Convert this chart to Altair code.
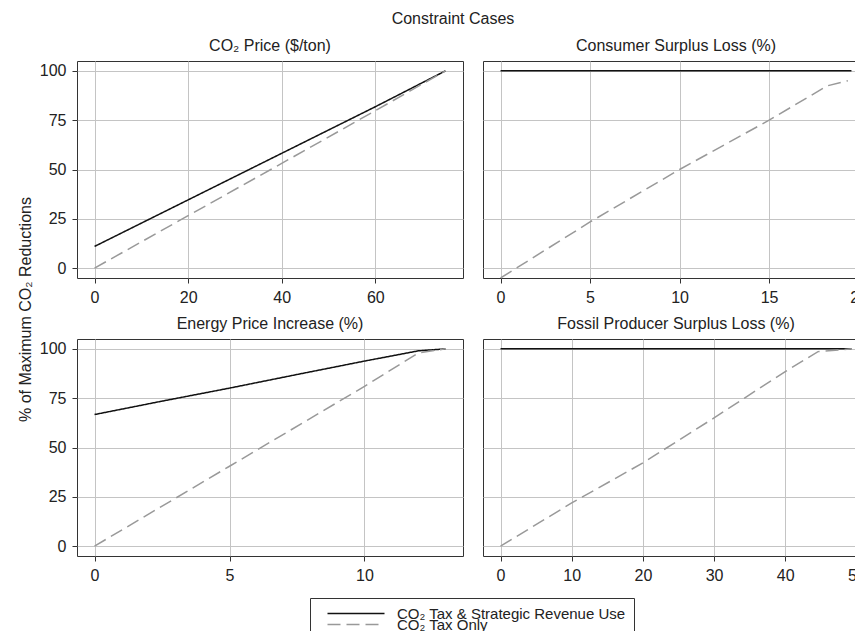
import altair as alt
import pandas as pd

S1 = "CO₂ Tax & Strategic Revenue Use"
S2 = "CO₂ Tax Only"

# Panel 1: CO2 Price ($/ton)
price_x_s = [0, 20, 40, 60, 75]
price_y_s = [11, 34.6, 58.2, 81.8, 100]
price_x_d = [0, 20, 40, 60, 75]
price_y_d = [0, 26.6, 53.1, 79.8, 100]

# Panel 2: Consumer Surplus Loss (%)
cons_x_s = [0, 19.6]
cons_y_s = [100, 100]
cons_x_d = [0, 5, 10, 15, 18.25, 19.4]
cons_y_d = [-5, 23.4, 50, 75, 92.4, 95]

# Panel 3: Energy Price Increase (%)
energy_x_s = [0, 2.5, 5, 7.5, 10, 12, 13]
energy_y_s = [66.7, 73.5, 80.1, 87, 93.8, 99, 100]
energy_x_d = [0, 5, 10, 12, 13]
energy_y_d = [0, 40.5, 81, 98, 100]

# Panel 4: Fossil Producer Surplus Loss (%)
fossil_x_s = [0, 49.3]
fossil_y_s = [100, 100]
fossil_x_d = [0, 10, 20, 30, 40, 44.6, 49.3]
fossil_y_d = [0, 21.9, 42.2, 65, 88.5, 98.6, 100]

Y_TICKS = [0, 25, 50, 75, 100]
FONT = "Liberation Sans"
TXT = "#222222"
FS = 16
LFS = 15
SYM = "M-1,0H10.4"

# legend box + first entry (solid)
legend_solid = alt.Legend(
    orient="none", legendX=233, legendY=537, values=[S1],
    title=".", titleOrient="bottom", titleFontSize=14, titlePadding=10,
    titleColor="white",
    symbolType=SYM, symbolSize=100, symbolStrokeWidth=1.5,
    labelFontSize=LFS, labelFont=FONT, labelColor=TXT, labelOffset=57,
    labelLimit=500, padding=8, strokeColor="#333333", symbolOffset=7,
)
# second entry (dashed), placed tightly below the first
legend_dash = alt.Legend(
    orient="none", legendX=233, legendY=548, values=[S2], title=None,
    symbolType=SYM, symbolSize=100, symbolStrokeWidth=1.5,
    symbolStrokeColor="#999999",
    labelFontSize=LFS, labelFont=FONT, labelColor=TXT, labelOffset=57,
    labelLimit=500, padding=8, symbolOffset=7,
)


def panel(title, xs_s, ys_s, xs_d, ys_d, xdom, xticks, left, ytitle=False):
    series = [S1] * len(xs_s) + [S2] * len(xs_d)
    df = pd.DataFrame({
        "x": xs_s + xs_d,
        "y": ys_s + ys_d,
        "series": series,
        "series_d": series,
    })
    if left:
        if ytitle:
            yaxis = alt.Axis(values=Y_TICKS, title="% of Maximum CO₂ Reductions",
                             titleAngle=270, titleX=-52, titleY=248,
                             titleAlign="center", titleBaseline="middle")
        else:
            yaxis = alt.Axis(values=Y_TICKS, title=None)
    else:
        yaxis = alt.Axis(values=Y_TICKS, labels=False, ticks=False, title=None)
    return alt.Chart(df).mark_line(strokeWidth=1.5, clip=True).encode(
        x=alt.X("x:Q", scale=alt.Scale(domain=xdom, nice=False, zero=False),
                axis=alt.Axis(values=xticks, title=None, labelFlush=False)),
        y=alt.Y("y:Q", scale=alt.Scale(domain=[-5, 105], nice=False, zero=False),
                axis=yaxis),
        color=alt.Color("series:N",
                        scale=alt.Scale(domain=[S1, S2], range=["#111111", "#999999"]),
                        legend=legend_solid),
        strokeDash=alt.StrokeDash("series_d:N",
                                  scale=alt.Scale(domain=[S2, S1], range=[[13, 6], [1, 0]]),
                                  legend=legend_dash),
    ).properties(width=386, height=217, title=alt.TitleParams(title, offset=7))


p1 = panel("CO₂ Price ($/ton)", price_x_s, price_y_s, price_x_d, price_y_d,
           [-3.75, 78.75], [0, 20, 40, 60], True, ytitle=True)
p2 = panel("Consumer Surplus Loss (%)", cons_x_s, cons_y_s, cons_x_d, cons_y_d,
           [-0.98, 20.58], [0, 5, 10, 15, 20], False)
p3 = panel("Energy Price Increase (%)", energy_x_s, energy_y_s, energy_x_d, energy_y_d,
           [-0.65, 13.65], [0, 5, 10], True)
p4 = panel("Fossil Producer Surplus Loss (%)", fossil_x_s, fossil_y_s, fossil_x_d, fossil_y_d,
           [-2.465, 51.765], [0, 10, 20, 30, 40, 50], False)

chart = alt.concat(
    p1, p2, p3, p4, columns=2, spacing={"row": 61, "column": 20}, bounds="flush"
).properties(
    title=alt.TitleParams("Constraint Cases", offset=11, dx=10, anchor="middle"),
    padding={"left": 8, "top": 2, "right": -15, "bottom": -24},
).configure_view(
    stroke="#333333", strokeWidth=1
).configure_line(
    color="#999999"
).configure_axis(
    gridColor="#c4c4c4", gridWidth=1, tickColor="#333333", tickSize=5,
    domain=False, labelFont=FONT, labelFontSize=FS, labelColor=TXT,
    labelPadding=6,
    titleFont=FONT, titleFontSize=FS, titleFontWeight="normal", titleColor=TXT,
).configure_title(
    font=FONT, fontSize=FS, fontWeight="normal", color=TXT
)

chart.save("out.html", embed_options={"renderer": "svg", "actions": False})
